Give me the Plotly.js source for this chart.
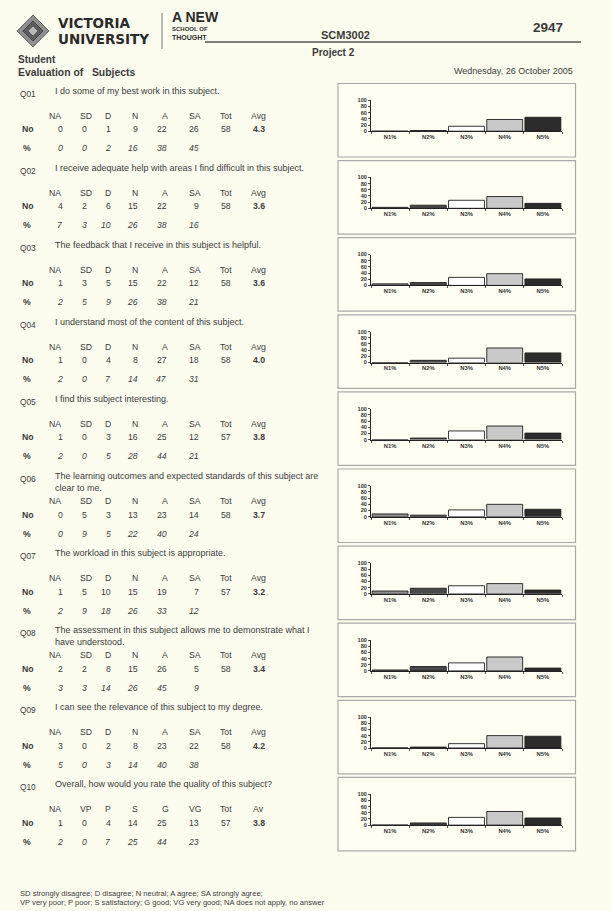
<!DOCTYPE html>
<html><head><meta charset="utf-8">
<script src="https://cdn.plot.ly/plotly-3.0.1.min.js"></script>
<style>html,body{margin:0;padding:0;background:#fdfdef;} #chart{width:612px;height:911px;}</style>
</head><body><div id="chart"></div>
<script>
// ---------------- data ----------------
const questionCodes = ['Q01','Q02','Q03','Q04','Q05','Q06','Q07','Q08','Q09','Q10'];
const questionTexts = [
  'I do some of my best work in this subject.',
  'I receive adequate help with areas I find difficult in this subject.',
  'The feedback that I receive in this subject is helpful.',
  'I understand most of the content of this subject.',
  'I find this subject interesting.',
  'The learning outcomes and expected standards of this subject are<br>clear to me.',
  'The workload in this subject is appropriate.',
  'The assessment in this subject allows me to demonstrate what I<br>have understood.',
  'I can see the relevance of this subject to my degree.',
  'Overall, how would you rate the quality of this subject?'
];
const headersAgree   = ['NA','SD','D','N','A','SA','Tot','Avg'];
const headersQuality = ['NA','VP','P','S','G','VG','Tot','Av'];
// counts ("No" row)
const naNo  = [0,4,1,1,1,0,1,2,3,1];
const sdNo  = [0,2,3,0,0,5,5,2,0,0];
const dNo   = [1,6,5,4,3,3,10,8,2,4];
const nNo   = [9,15,15,8,16,13,15,15,8,14];
const aNo   = [22,22,22,27,25,23,19,26,23,25];
const saNo  = [26,9,12,18,12,14,7,5,22,13];
const totNo = [58,58,58,58,57,58,57,58,58,57];
const avgNo = ['4.3','3.6','3.6','4.0','3.8','3.7','3.2','3.4','4.2','3.8'];
// percentages ("%" row)
const naPct = [0,7,2,2,2,0,2,3,5,2];
const sdPct = [0,3,5,0,0,9,9,3,0,0];
const dPct  = [2,10,9,7,5,5,18,14,3,7];
const nPct  = [16,26,26,14,28,22,26,26,14,25];
const aPct  = [38,38,38,47,44,40,33,45,40,44];
const saPct = [45,16,21,31,21,24,12,9,38,23];
// bar chart categories and axis ticks
const barCategories = ['N1%','N2%','N3%','N4%','N5%'];
const yTickVals = [0,20,40,60,80,100];
const yTickText = ['0','20','40','60','80','100'];

// ---------------- style / layout helpers ----------------
const W = 612, H = 911;
const X = v => v / W, Y = v => 1 - v / H;
const FONT = '"Liberation Sans", Arial, sans-serif';
const NARROW = '"Liberation Sans Narrow", "Liberation Sans", Arial';
const INK = '#3a3a3a';
const barColors = ['#8c8c8c','#4a4a4a','#ffffff','#c9c9c9','#2c2c2c'];
const annotations = [], shapes = [], data = [];
const layout = {
  width: W, height: H, margin: {l:0,r:0,t:0,b:0},
  paper_bgcolor: '#fdfdef', plot_bgcolor: 'rgba(0,0,0,0)',
  showlegend: false, bargap: 0.06, font: {family: FONT, color: INK}
};

function txt(x, y, text, o) {
  o = o || {};
  annotations.push({
    xref:'paper', yref:'paper', x:X(x), y:Y(y), text:text, showarrow:false,
    xanchor: o.xa || 'left', yanchor: o.ya || 'middle', align: o.align || 'left', borderpad:0,
    font: {family: o.family || FONT, size: o.size || 8.7, color: o.color || INK, weight: o.weight || 'normal', style: o.style || 'normal'}
  });
}
function line(x0,y0,x1,y1,color,width){
  shapes.push({type:'line', xref:'paper', yref:'paper', x0:X(x0), y0:Y(y0), x1:X(x1), y1:Y(y1), line:{color:color, width:width}});
}
function pathShape(pts, fill, lc){
  const d = pts.map((p,k)=>(k?'L':'M')+X(p[0])+','+Y(p[1])).join(' ')+' Z';
  shapes.push({type:'path', xref:'paper', yref:'paper', path:d, fillcolor:fill, line:{color:lc, width:0.8}});
}

// ---------------- page header ----------------
pathShape([[33,15],[49,31],[33,47],[17,31]], '#8e8e8e', '#4f4f4f');
pathShape([[33,21],[43,31],[33,41],[23,31]], '#5c5c5c', '#3a3a3a');
pathShape([[33,26],[38,31],[33,36],[28,31]], '#b8b8b8', '#555');
txt(57, 23, 'VICTORIA', {size:13.5, weight:'bold', family:'"DejaVu Sans", sans-serif', color:'#2a2a2a'});
txt(57, 39, 'UNIVERSITY', {size:13.5, weight:'bold', family:'"DejaVu Sans", sans-serif', color:'#2a2a2a'});
line(162, 13, 162, 49, '#777', 1);
txt(171, 17.5, 'A NEW', {size:14, weight:'bold', family:NARROW, color:'#2a2a2a'});
txt(171, 29.5, 'SCHOOL OF', {size:6, weight:'bold', family:NARROW, color:'#2a2a2a'});
txt(171, 37.5, 'THOUGHT', {size:7, weight:'bold', family:NARROW, color:'#2a2a2a'});
line(205, 42, 581, 42, '#555', 1.4);
txt(345, 35.5, 'SCM3002', {size:11, weight:'bold', xa:'center'});
txt(564, 27.5, '2947', {size:13.5, weight:'bold', xa:'right'});
txt(333, 53, 'Project 2', {size:10, weight:'bold', xa:'center'});
txt(17, 60, 'Student', {size:10, weight:'bold'});
txt(17, 72.5, 'Evaluation of\u00a0\u00a0\u00a0Subjects', {size:10.4, weight:'bold'});
txt(574, 70.5, 'Wednesday, 26 October 2005', {size:9, xa:'right'});

// ---------------- question blocks ----------------
const hdrX = [54.6, 85.8, 108.4, 135.3, 165, 195, 226, 258.6];
const numRX = [64, 88, 112, 138.5, 167.5, 200, 232];
const avgLX = 251.5;

for (let i = 0; i < questionCodes.length; i++) {
  const T = 83.5 + i * 77.1;
  const two = questionTexts[i].indexOf('<br>') >= 0;
  txt(18.5, T + 10, questionCodes[i], {size:8.3});
  txt(54, two ? T + 12.5 : T + 7, questionTexts[i], {size:9});
  const hdr = i === 9 ? headersQuality : headersAgree;
  hdr.forEach((h, k) => txt(hdrX[k], T + 32, h, {xa:'center'}));
  txt(21, T + 45.5, 'No', {weight:'bold'});
  const row = [naNo[i], sdNo[i], dNo[i], nNo[i], aNo[i], saNo[i], totNo[i]];
  row.forEach((v, k) => txt(numRX[k], T + 45.5, String(v), {xa:'right'}));
  txt(avgLX, T + 45.5, avgNo[i], {weight:'bold'});
  txt(22, T + 64.5, '%', {weight:'bold'});
  const pr = [naPct[i], sdPct[i], dPct[i], nPct[i], aPct[i], saPct[i]];
  pr.forEach((v, k) => txt(numRX[k], T + 64.5, String(v), {xa:'right', style:'italic'}));

  // chart frame
  shapes.push({type:'rect', xref:'paper', yref:'paper', x0:X(338), x1:X(575.5), y0:Y(T), y1:Y(T+73.5),
               line:{color:'#aaaaaa', width:1.2}, fillcolor:'rgba(255,255,250,0.35)', layer:'below'});

  const n = i + 1, sx = n === 1 ? '' : String(n);
  layout['xaxis' + sx] = {
    domain:[X(371), X(562)], anchor:'y' + sx, type:'category',
    showline:true, linecolor:'#222', linewidth:1, ticks:'outside', tickson:'boundaries',
    ticklen:2, tickcolor:'#222', tickwidth:0.8, showgrid:false, zeroline:false,
    tickfont:{family:FONT, size:5.8, color:'#333', weight:'bold'}, fixedrange:true
  };
  layout['yaxis' + sx] = {
    domain:[Y(T + 47.7), Y(T + 16.8)], anchor:'x' + sx, range:[0, 100],
    tickvals:yTickVals, ticktext:yTickText, showline:true, linecolor:'#222', linewidth:1,
    ticks:'outside', ticklen:2, tickcolor:'#222', tickwidth:0.8, showgrid:false, zeroline:false,
    tickfont:{family:FONT, size:5.6, color:'#333', weight:'bold'}, fixedrange:true
  };
  data.push({
    type:'bar', x:barCategories, y:[sdPct[i], dPct[i], nPct[i], aPct[i], saPct[i]],
    xaxis:'x' + sx, yaxis:'y' + sx, hoverinfo:'skip', showlegend:false,
    marker:{color:barColors, line:{color:'#1e1e1e', width:0.9}}
  });
}

// ---------------- footer ----------------
txt(19, 893, 'SD strongly disagree; D disagree; N neutral; A agree; SA strongly agree;', {size:7.6});
txt(19, 902.5, 'VP very poor; P poor; S satisfactory; G good; VG very good; NA does not apply, no answer', {size:7.6});

layout.annotations = annotations;
layout.shapes = shapes;
Plotly.newPlot('chart', data, layout, {staticPlot:true, displayModeBar:false});
</script>
</body></html>
